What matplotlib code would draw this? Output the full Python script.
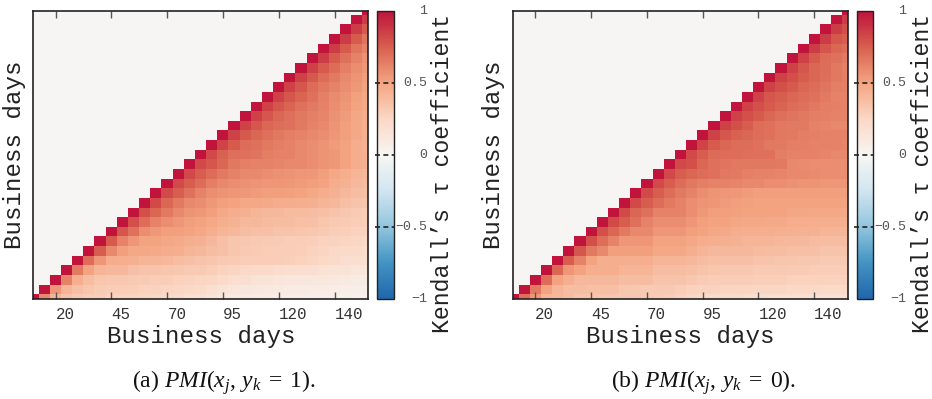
import numpy as np
import matplotlib
matplotlib.use('Agg')
import matplotlib.pyplot as plt
import matplotlib.transforms as mtransforms
from matplotlib.colors import LinearSegmentedColormap

# ---------------- data ----------------
x_tick_idx = [2, 7, 12, 17, 22, 27]
x_tick_labels = ['20', '45', '70', '95', '120', '140']
cbar_ticks = [-1, -0.5, 0, 0.5, 1]
cbar_tick_labels = ['\u22121', '\u22120.5', '0', '0.5', '1']
axis_label = 'Business days'
cbar_label = 'Kendall\u2019s \u03c4 coefficient'
captions = [r'(a) $PMI(x_j,\,y_k\;=\;1)$.', r'(b) $PMI(x_j,\,y_k\;=\;0)$.']

# Kendall tau (x100), row i (bottom = 0) holds columns j = i .. 30
pmi_y1_rows = [
    [100,60,42,35,32,30,30,28,28,27,26,25,24,22,20,18,15,12,10,9,8,8,7,7,6,6,6,5,5,4,4],
    [100,55,42,36,34,31,30,30,29,28,27,26,25,24,22,20,16,14,12,11,10,10,9,9,8,8,7,7,6,6],
    [100,62,45,38,34,33,33,32,31,30,30,28,27,26,25,22,20,18,16,15,14,13,13,12,12,11,10,9,9],
    [100,65,50,42,40,40,36,35,35,34,33,32,32,30,28,26,24,23,22,21,20,19,18,17,16,15,14,14],
    [100,70,55,46,45,44,42,42,41,38,36,35,34,32,31,30,30,30,30,29,28,26,24,22,20,20,19],
    [100,75,60,52,48,48,47,46,45,42,40,38,36,34,32,31,30,30,30,29,28,26,24,23,22,21],
    [100,76,62,55,50,50,49,47,45,44,40,36,34,33,32,31,31,30,30,29,28,27,26,25,24],
    [100,78,68,58,54,52,52,50,48,45,42,40,38,36,36,35,35,34,33,32,30,29,28,27],
    [100,80,70,62,58,55,52,50,48,45,43,41,40,39,38,38,37,36,34,32,31,30,29],
    [100,80,72,65,60,56,54,52,48,46,44,42,40,40,39,39,38,37,35,33,31,30],
    [100,82,72,65,60,58,54,52,50,48,48,47,46,46,45,44,42,40,37,35,34],
    [100,82,75,68,62,58,56,55,54,53,52,52,51,50,48,46,43,40,38,37],
    [100,82,75,70,64,60,58,57,56,55,55,54,53,52,50,46,43,40,39],
    [100,82,75,70,65,62,60,60,58,57,56,55,54,52,48,45,42,41],
    [100,82,78,72,66,63,62,62,61,60,60,58,56,54,50,46,44],
    [100,82,74,69,68,67,64,62,62,60,58,56,54,50,46,44],
    [100,84,76,70,68,66,64,62,60,58,56,53,50,46,43],
    [100,85,77,72,69,66,64,62,60,58,55,52,48,44],
    [100,85,78,72,70,68,65,62,60,56,52,48,45],
    [100,85,78,72,69,66,63,61,57,53,49,46],
    [100,85,78,73,68,65,62,58,54,50,47],
    [100,85,78,73,68,63,59,56,51,48],
    [100,85,78,71,66,62,58,54,50],
    [100,85,77,70,65,60,56,52],
    [100,85,76,70,63,58,54],
    [100,86,76,68,62,57],
    [100,86,76,67,62],
    [100,86,76,67],
    [100,86,76],
    [100,86],
    [100],
]

pmi_y0_rows = [
    [100,70,55,42,40,38,35,35,34,34,33,33,32,31,30,28,25,24,23,22,22,21,21,20,20,20,19,19,18,18,18],
    [100,65,50,42,38,38,37,37,36,34,33,32,32,32,30,28,27,27,26,26,26,25,25,25,24,24,24,23,23,23],
    [100,70,50,45,40,40,40,40,38,38,38,35,35,35,33,31,30,30,30,30,29,29,29,28,28,28,28,28,27],
    [100,72,55,50,45,45,45,42,42,42,38,38,38,36,35,34,33,33,33,32,32,32,31,31,30,30,30,30],
    [100,75,62,50,45,45,45,45,45,42,42,42,40,38,37,36,36,36,35,35,34,34,33,33,32,32,32],
    [100,78,65,60,52,52,52,52,48,48,48,45,42,40,40,40,40,39,38,38,37,36,36,35,35,35],
    [100,80,70,62,55,55,55,50,50,50,48,46,45,44,43,42,42,42,41,40,40,39,38,38,38],
    [100,80,72,65,60,60,55,55,55,52,50,48,47,46,45,45,45,44,44,43,43,42,42,42],
    [100,82,75,68,62,58,58,58,55,52,50,50,49,48,48,47,47,46,46,45,45,45,45],
    [100,82,72,68,62,62,62,58,54,52,52,51,50,50,50,50,49,49,48,48,48,48],
    [100,82,75,70,65,62,58,56,55,53,52,51,50,50,50,50,50,50,50,50,50],
    [100,82,75,70,65,62,58,56,55,54,53,52,52,52,52,52,52,52,52,52],
    [100,82,75,70,66,64,62,62,61,60,60,58,58,57,56,56,55,55,55],
    [100,82,75,72,70,68,66,65,63,62,62,61,60,60,59,58,58,58],
    [100,82,80,72,68,67,66,66,66,66,65,60,59,58,58,58,58],
    [100,82,75,71,70,70,69,68,68,64,62,62,62,61,60,60],
    [100,84,76,72,70,70,68,66,65,64,63,62,62,62,61],
    [100,85,78,74,72,70,68,66,65,64,63,62,62,62],
    [100,85,80,75,70,68,66,65,65,62,61,60,60],
    [100,85,80,76,72,69,67,66,64,63,62,62],
    [100,85,80,76,73,70,68,66,64,63,62],
    [100,85,78,75,72,70,68,65,62,62],
    [100,85,80,76,72,70,67,64,63],
    [100,85,80,75,72,69,66,64],
    [100,85,78,72,70,66,63],
    [100,85,76,71,68,65],
    [100,86,78,72,70],
    [100,86,78,75],
    [100,86,80],
    [100,86],
    [100],
]


def to_matrix(rows):
    n = len(rows)
    m = np.zeros((n, n))
    for i, r in enumerate(rows):
        m[i, i:i + len(r)] = np.asarray(r, dtype=float) / 100.0
    return m


cmap = LinearSegmentedColormap.from_list('rdbu_gp', [
    (0.000, '#2166AC'), (0.125, '#4393C3'), (0.250, '#92C5DE'),
    (0.375, '#D1E5F0'), (0.500, '#F7F6F4'), (0.625, '#FBD8C6'),
    (0.750, '#F4A582'), (0.875, '#D8604F'), (1.000, '#C0143C')])

mono = 'Liberation Mono'
plt.rcParams['mathtext.fontset'] = 'custom'
plt.rcParams['mathtext.rm'] = 'Liberation Serif'
plt.rcParams['mathtext.it'] = 'Liberation Serif:italic'

W, H = 932, 399
fig = plt.figure(figsize=(W / 100, H / 100), dpi=100)


def fx(px):
    return px / W


def fy(py):
    return 1 - py / H


panels = [
    dict(rows=pmi_y1_rows, left=33.3, cbl=377.0, caption_x=224, cap=captions[0]),
    dict(rows=pmi_y0_rows, left=512.7, cbl=856.7, caption_x=704, cap=captions[1]),
]

top_px, bot_px = 11.0, 299.3
for p in panels:
    M = to_matrix(p['rows'])
    n = M.shape[0]
    ax = fig.add_axes([fx(p['left']), fy(bot_px), 335 / W, (bot_px - top_px) / H])
    im = ax.imshow(M, origin='lower', cmap=cmap, vmin=-1, vmax=1,
                   extent=(-0.5, n - 0.5, -0.5, n - 0.5), aspect='auto',
                   interpolation='nearest')
    ax.set_xlim(0, n - 1)
    ax.set_ylim(0, n - 1)
    ax.set_xticks(x_tick_idx)
    ax.set_xticklabels(x_tick_labels, ha='left', family=mono, fontsize=11.3, color='#333333')
    ax.set_yticks([])
    ax.tick_params(axis='x', direction='in', length=5, width=1, color='#555555',
                   top=True, bottom=True, pad=5.5)
    for s in ax.spines.values():
        s.set_linewidth(1.2)
        s.set_color('#222222')
    # axis labels
    cx = p['left'] + 335 / 2
    fig.text(fx(cx), fy(343.3), axis_label, family=mono, fontsize=17.4,
             ha='center', va='baseline', color='#222222')
    fig.text(fx(p['left'] - 19), fy(155.2), axis_label, family=mono, fontsize=17.4,
             rotation=90, ha='center', va='center', color='#222222')

    # colour bar
    cax = fig.add_axes([fx(p['cbl']), fy(bot_px), 16.6 / W, (bot_px - top_px) / H])
    cb = fig.colorbar(im, cax=cax)
    cb.set_ticks([])
    cb.outline.set_linewidth(1.0)
    cb.outline.set_edgecolor('#222222')
    trans = mtransforms.blended_transform_factory(cax.transAxes, cax.transData)
    for v, lab in zip(cbar_ticks, cbar_tick_labels):
        cax.text(3.0, v, lab, transform=trans, ha='right', va='center',
                 family=mono, fontsize=9.6, color='#555555')
        if -1 < v < 1:
            cax.plot([-0.15, 1.05], [v, v], transform=trans, clip_on=False,
                     color='#222222', lw=1.2, ls=(0, (3, 2)))
    fig.text(fx(p['cbl'] + 65.5), fy(173), cbar_label, family=mono, fontsize=16.7,
             rotation=90, ha='center', va='center', color='#222222')

    # caption
    fig.text(fx(p['caption_x']), fy(388), p['cap'], fontsize=17.0,
             family='Liberation Serif', ha='center', va='baseline', color='#111111')

fig.savefig('out.png', dpi=100)
